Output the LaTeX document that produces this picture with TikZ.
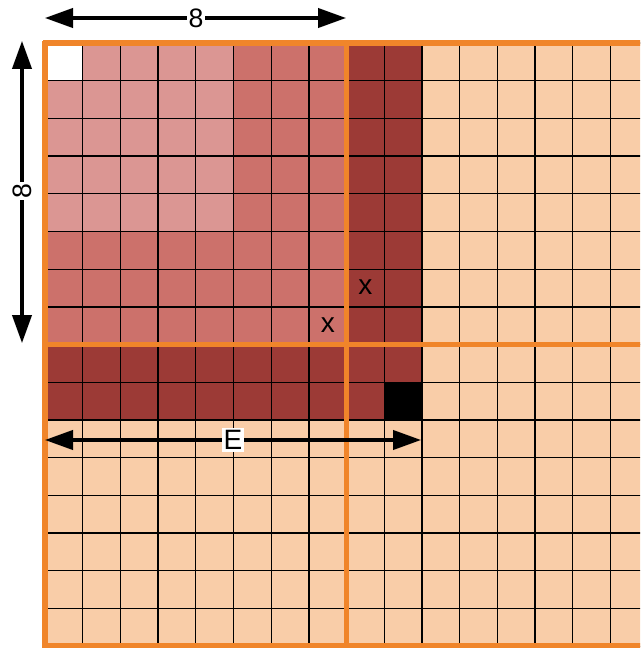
\documentclass[tikz,border=0pt]{standalone}
\usepackage{fontspec}
\setmainfont{Liberation Sans}
\usetikzlibrary{arrows.meta}
\definecolor{lightc}{HTML}{DB9693}
\definecolor{medc}{HTML}{CC716B}
\definecolor{darkc}{HTML}{9C3A36}
\definecolor{peachc}{HTML}{F9CDA8}
\definecolor{orangec}{HTML}{F0852A}
\tikzset{
  thin grid/.style={line width=1pt, black},
  block line/.style={line width=4.2pt, orangec},
  dim arrow/.style={line width=2.3pt, {Triangle[length=21pt,width=14.5pt]}-{Triangle[length=21pt,width=14.5pt]}},
  dimlabel/.style={fill=white, inner sep=1.5pt, font=\fontsize{20}{24}\selectfont},
  xlabel/.style={inner sep=0pt, font=\fontsize{21}{24}\selectfont}
}
\begin{document}
\begin{tikzpicture}[x=0.75pt,y=-0.75pt]
\useasboundingbox (0,0) rectangle (640,648);
\def\cs{37.7}
\def\ox{45}
\def\oy{43}
\begin{scope}
\clip (0,0) rectangle (640,648);
% fills
\fill[peachc] (\ox,\oy) rectangle ({\ox+16*\cs},{\oy+16*\cs});
\fill[darkc] (\ox,\oy) rectangle ({\ox+10*\cs},{\oy+10*\cs});
\fill[medc] (\ox,\oy) rectangle ({\ox+8*\cs},{\oy+8*\cs});
\fill[lightc] (\ox,\oy) rectangle ({\ox+5*\cs},{\oy+5*\cs});
\fill[white] (\ox,\oy) rectangle ({\ox+\cs},{\oy+\cs});
\fill[black] ({\ox+9*\cs},{\oy+9*\cs}) rectangle ({\ox+10*\cs},{\oy+10*\cs});
% thin grid
\foreach \i in {0,...,16} {
  \draw[thin grid] ({\ox+\i*\cs},\oy) -- ({\ox+\i*\cs},{\oy+16*\cs});
  \draw[thin grid] (\ox,{\oy+\i*\cs}) -- ({\ox+16*\cs},{\oy+\i*\cs});
}
% orange block lines
\foreach \i in {0,8,16} {
  \draw[block line] ({\ox+\i*\cs},{\oy-2}) -- ({\ox+\i*\cs},{\oy+16*\cs+2});
  \draw[block line] ({\ox-2},{\oy+\i*\cs}) -- ({\ox+16*\cs+2},{\oy+\i*\cs});
}
\end{scope}
% x labels
\node[xlabel] (x1) at ({\ox+8.5*\cs},{\oy+6.5*\cs-1}) {x};
\node[xlabel] (x2) at ({\ox+7.5*\cs},{\oy+7.5*\cs-1}) {x};
% dimension arrows
\coordinate (tl) at (45,18);
\coordinate (tr) at (346,18);
\draw[dim arrow] (tl) -- (tr);
\node[dimlabel] (t8) at (196,18) {8};
\coordinate (lt) at (22,41);
\coordinate (lb) at (22,343);
\draw[dim arrow] (lt) -- (lb);
\node[dimlabel, rotate=90] (l8) at (22,191) {8};
\coordinate (el) at (45,440);
\coordinate (er) at (421,440);
\draw[dim arrow] (el) -- (er);
\node[dimlabel, font=\fontsize{21}{24}\selectfont] (e) at (233,440) {E};
\end{tikzpicture}
\end{document}
